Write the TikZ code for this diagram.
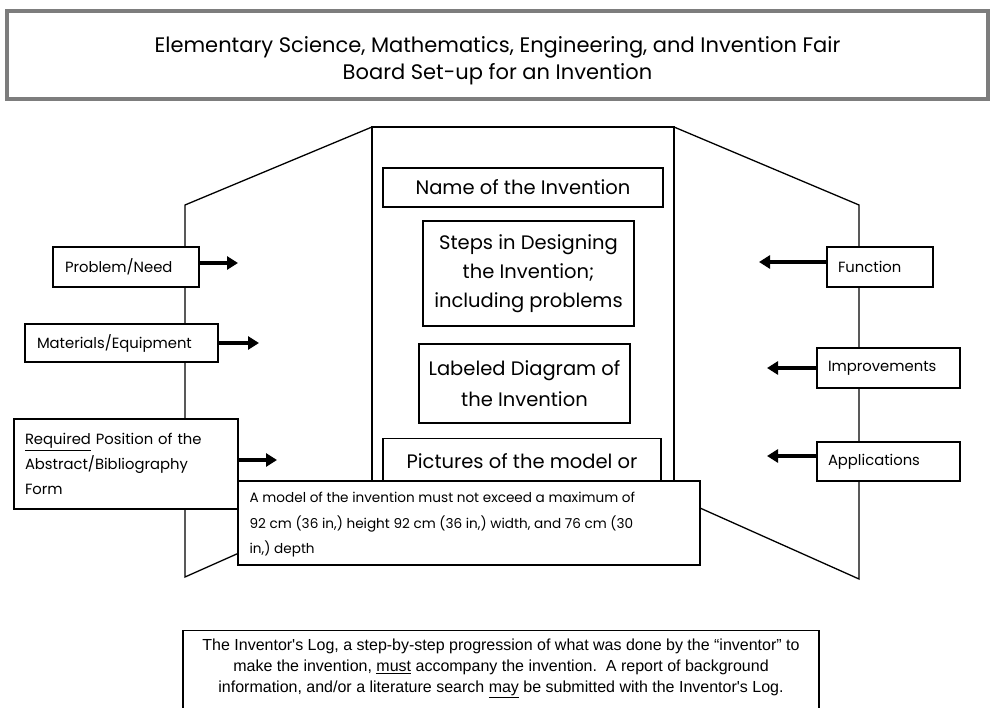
\documentclass[tikz,border=0pt]{standalone}
\usepackage{fontspec}
\setmainfont{Poppins}
\newfontfamily\arialf{Liberation Sans}
\usetikzlibrary{arrows.meta}
\begin{document}
\begin{tikzpicture}[x=1pt,y=-1pt,
  line width=1.3pt,
  box/.style={draw, line width=1.4pt, fill=white, inner sep=0pt},
  lbox/.style={box, align=left, text width=#1, font=\fontsize{14.8}{25}\selectfont},
  cbox/.style={box, align=center, font=\fontsize{19.5}{29}\selectfont},
  arr/.style={line width=4pt, -{Triangle[length=11pt,width=13pt]}},
  wing/.style={line width=1.3pt}
]
\useasboundingbox (0,0) rectangle (992,708);

% title
\node[draw={rgb,255:red,125;green,125;blue,125}, line width=3.5pt, minimum width=981pt, minimum height=88pt, inner sep=0pt] (title) at (497.5,55) {};
\node[align=center, font=\fontsize{21}{27}\selectfont, inner sep=0pt] (titletext) at (497.5,61)
  {Elementary Science, Mathematics, Engineering, and Invention Fair\\Board Set-up for an Invention};

% board outline
\coordinate (ltop) at (185,205);
\coordinate (cTL) at (372,127);
\coordinate (cTR) at (674,127);
\coordinate (cBL) at (372,540);
\coordinate (cBR) at (674,540);
\coordinate (rtop) at (859,205);
\coordinate (lbot) at (185,577);
\coordinate (lslant) at (239,553);
\coordinate (rbot) at (859,579);
\coordinate (rslant) at (700,508);
\draw[wing] (lslant) -- (lbot) -- (ltop) -- (cTL);
\draw[wing] (cTR) -- (rtop) -- (rbot) -- (rslant);
\draw[wing] (cBL) -- (cTL) -- (cTR) -- (cBR);

% centre boxes
\node[cbox, minimum width=280pt, minimum height=39pt] (name) at (523,187.5) {Name of the Invention};
\node[cbox, minimum width=211pt, minimum height=105pt] (steps) at (528.5,273.5) {Steps in Designing\\the Invention;\\including problems};
\node[cbox, minimum width=211pt, minimum height=79pt, font=\fontsize{19.5}{31}\selectfont] (labeled) at (524.5,383.5) {Labeled Diagram of\\the Invention};
\node[box, minimum width=278pt, minimum height=62pt, anchor=north] (pics) at (522,438) {};
\node[font=\fontsize{19.5}{29}\selectfont, inner sep=0pt] (picstext) at (522,461) {Pictures of the model or};

% left boxes
\node[lbox=122pt, inner xsep=12pt, minimum height=40pt] (prob) at (126,267) {Problem/Need};
\node[lbox=169pt, inner xsep=12pt, minimum height=38pt] (mat) at (121.5,343) {Materials/Equipment};
\node[lbox=202pt, inner xsep=11pt, minimum height=90pt] (req) at (126,464) {\underline{Required} Position of the\\Abstract/Bibliography\\Form};

% right boxes
\node[lbox=84pt, inner xsep=11pt, minimum height=40pt] (func) at (880,267) {Function};
\node[lbox=121pt, inner xsep=11pt, minimum height=40pt] (impr) at (888.5,368) {Improvements};
\node[lbox=121pt, inner xsep=11pt, minimum height=39pt] (appl) at (888.5,461.5) {Applications};

% arrows
\coordinate (probtip) at (238,263);
\coordinate (mattip) at (259,343);
\coordinate (reqtip) at (277,460);
\coordinate (functip) at (759,262);
\coordinate (imprtip) at (767,368);
\coordinate (appltip) at (767,456);
\draw[arr] (prob.east |- probtip) -- (probtip);
\draw[arr] (mat.east |- mattip) -- (mattip);
\draw[arr] (req.east |- reqtip) -- (reqtip);
\draw[arr] (func.west |- functip) -- (functip);
\draw[arr] (impr.west |- imprtip) -- (imprtip);
\draw[arr] (appl.west |- appltip) -- (appltip);

% model box
\node[box, minimum width=462pt, minimum height=84pt] (model) at (469,523) {};
\node[align=left, anchor=west, inner sep=0pt, font=\fontsize{13.6}{25.5}\selectfont] (modeltext) at (249,525)
  {A model of the invention must not exceed a maximum of\\92 cm (36 in,) height 92 cm (36 in,) width, and 76 cm (30\\in,) depth};

% bottom box
\node[box, minimum width=636pt, minimum height=100pt, anchor=north] (log) at (501,630) {};
\node[align=center, inner sep=0pt, font=\arialf\fontsize{16}{21}\selectfont] (logtext) at (501,668.5)
  {The Inventor's Log, a step-by-step progression of what was done by the “inventor” to\\
   make the invention, \underline{must} accompany the invention.\ \ A report of background\\
   information, and/or a literature search \underline{may} be submitted with the Inventor's Log.};
\end{tikzpicture}
\end{document}
